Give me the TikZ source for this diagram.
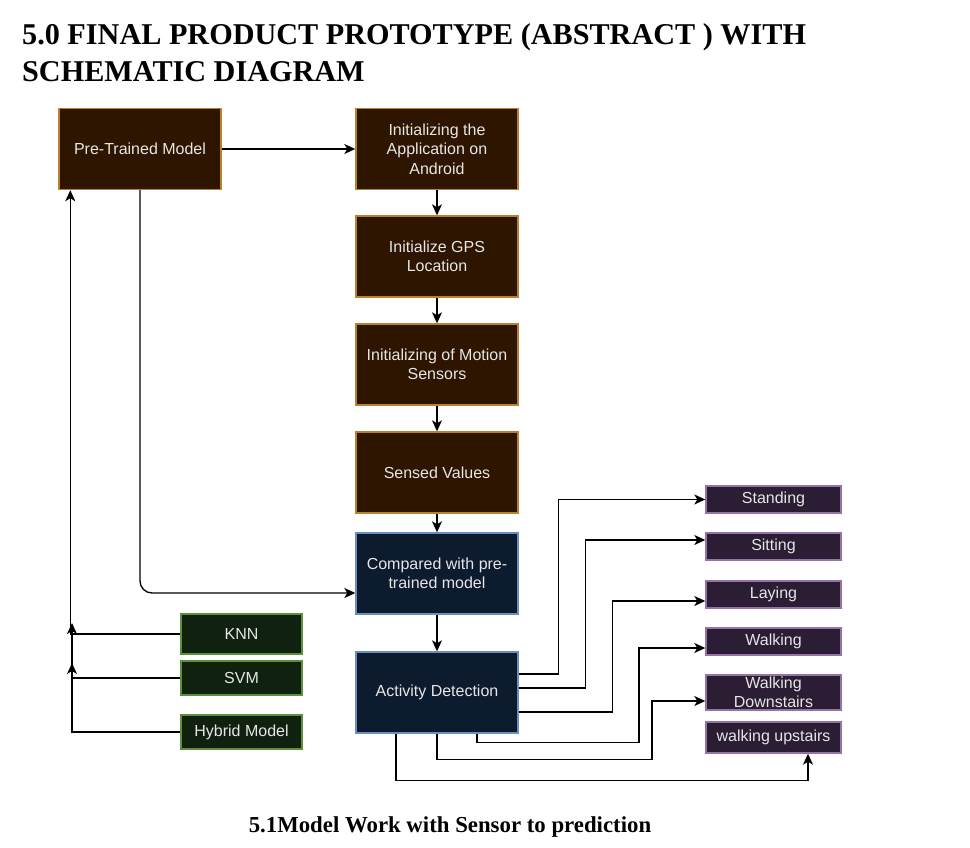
\documentclass[tikz,border=0pt]{standalone}
\usepackage{fontspec}
\setmainfont{Liberation Sans}
\newfontfamily\titlefont{Liberation Serif}
\usetikzlibrary{arrows.meta,positioning}

\definecolor{stepfill}{HTML}{2D1500}
\definecolor{stepline}{HTML}{B7812F}
\definecolor{checkfill}{HTML}{0D1B2E}
\definecolor{checkline}{HTML}{6C8EBF}
\definecolor{actfill}{HTML}{2B1D33}
\definecolor{actline}{HTML}{9673A6}
\definecolor{algofill}{HTML}{10220F}
\definecolor{algoline}{HTML}{5E8F3E}
\definecolor{boxtext}{HTML}{E6E6E6}

\begin{document}
\begin{tikzpicture}[x=1pt,y=-1pt,
  box/.style={draw,line width=1.4pt,text=boxtext,align=center,inner sep=0pt,
    font=\fontsize{16}{19.5}\selectfont},
  stepbox/.style={box,fill=stepfill,draw=stepline,minimum width=162pt,minimum height=81pt},
  checkbox/.style={box,fill=checkfill,draw=checkline,minimum width=162pt,minimum height=81pt},
  actbox/.style={box,fill=actfill,draw=actline,minimum width=135pt},
  algobox/.style={box,fill=algofill,draw=algoline,minimum width=121pt},
  link/.style={line width=1.3pt,-{Stealth[length=11pt,width=10pt,inset=3pt]}}]
  \useasboundingbox (0,0) rectangle (970,847);
  % title and caption
  \node[anchor=base west,align=left,inner sep=0pt,
    font=\titlefont\bfseries\fontsize{30.2}{37}\selectfont] (title) at (22,81)
    {5.0 FINAL PRODUCT PROTOTYPE (ABSTRACT ) WITH\\SCHEMATIC DIAGRAM};
  \node[anchor=base,inner sep=0pt,font=\titlefont\bfseries\fontsize{22.8}{26}\selectfont]
    (caption) at (450,832) {5.1Model Work with Sensor to prediction};
  % main steps
  \node[stepbox] (pretrained) at (140,149) {Pre-Trained Model};
  \node[stepbox] (initapp) at (437,149) {Initializing the\\Application on\\Android};
  \node[stepbox] (initgps) at (437,256.5) {Initialize GPS\\Location};
  \node[stepbox] (initsensors) at (437,364.5) {Initializing of Motion\\Sensors};
  \node[stepbox] (sensed) at (437,472.5) {Sensed Values};
  \node[checkbox] (compared) at (437,573.5) {Compared with pre-\\trained model};
  \node[checkbox] (activity) at (437,692.5) {Activity Detection};
  % activities
  \node[actbox,minimum height=27pt] (standing) at (773.5,499.5) {Standing};
  \node[actbox,minimum height=27pt] (sitting) at (773.5,546.5) {Sitting};
  \node[actbox,minimum height=27pt] (laying) at (773.5,594.5) {Laying};
  \node[actbox,minimum height=27pt] (walking) at (773.5,641.5) {Walking};
  \node[actbox,minimum height=35pt,font=\fontsize{16}{19}\selectfont] (downstairs) at (773.5,692.5) {Walking\\Downstairs};
  \node[actbox,minimum height=31pt] (upstairs) at (773.5,737.5) {walking upstairs};
  % algorithms
  \node[algobox,minimum height=40pt] (knn) at (241.5,634) {KNN};
  \node[algobox,minimum height=34pt] (svm) at (241.5,678) {SVM};
  \node[algobox,minimum height=34pt] (hybrid) at (241.5,732) {Hybrid Model};
  \coordinate (knnup) at (72,623);
  \coordinate (svmup) at (72,663);

  \draw[link] (pretrained) -- (initapp);
  \draw[link] (initapp) -- (initgps);
  \draw[link] (initgps) -- (initsensors);
  \draw[link] (initsensors) -- (sensed);
  \draw[link] (sensed) -- (compared);
  \draw[link] (compared) -- (activity);
  \draw[link,rounded corners=12pt] (pretrained.south) |- ([yshift=-19.5pt]compared.west);

  \draw[link] (knn.west) -| ([xshift=12pt]pretrained.south west);
  \draw[link] (svm.west) -| (knnup);
  \draw[link] (hybrid.west) -| (svmup);

  \draw[link] ([yshift=18.5pt]activity.east) -- ++(40,0) |- (standing.west);
  \draw[link] ([yshift=4.5pt]activity.east) -- ++(67,0) |- ([yshift=6.5pt]sitting.west);
  \draw[link] ([yshift=-19.5pt]activity.east) -- ++(94,0) |- ([yshift=-6.5pt]laying.west);
  \draw[link] ([xshift=40pt]activity.south) -- ++(0,9) -- ++(162,0) |- ([yshift=-6.5pt]walking.west);
  \draw[link] (activity.south) -- ++(0,26) -- ++(215,0) |- ([yshift=-8.5pt]downstairs.west);
  \draw[link] ([xshift=-41pt]activity.south) -- ++(0,47) -| ([xshift=34.5pt]upstairs.south);
\end{tikzpicture}
\end{document}
